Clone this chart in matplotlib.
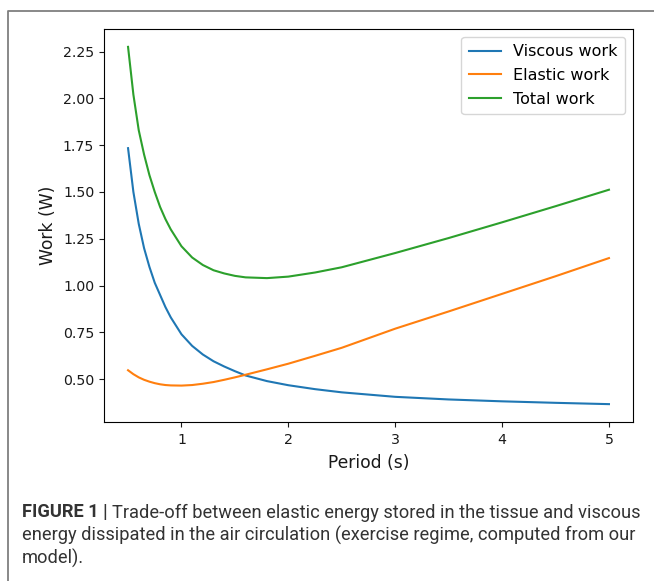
import matplotlib
matplotlib.use("Agg")
import matplotlib.pyplot as plt
from matplotlib.lines import Line2D

# ---- data ----
period = [0.5, 0.55, 0.6, 0.65, 0.7, 0.75, 0.8, 0.85, 0.9, 1.0, 1.1, 1.2, 1.3,
          1.4, 1.5, 1.6, 1.8, 2.0, 2.25, 2.5, 3.0, 3.5, 4.0, 4.5, 5.0]
viscous = [1.734, 1.50, 1.33, 1.20, 1.10, 1.015, 0.95, 0.885, 0.83, 0.74, 0.678,
           0.632, 0.596, 0.568, 0.543, 0.52, 0.49, 0.468, 0.447, 0.430, 0.406,
           0.392, 0.382, 0.374, 0.367]
elastic = [0.548, 0.527, 0.510, 0.497, 0.487, 0.479, 0.473, 0.469, 0.467, 0.466,
           0.469, 0.476, 0.485, 0.497, 0.510, 0.524, 0.553, 0.583, 0.625, 0.668,
           0.770, 0.862, 0.956, 1.050, 1.147]
total = [2.275, 2.02, 1.83, 1.70, 1.59, 1.50, 1.42, 1.355, 1.30, 1.21, 1.15,
         1.11, 1.082, 1.065, 1.052, 1.044, 1.040, 1.048, 1.070, 1.098, 1.174,
         1.254, 1.338, 1.424, 1.512]
series_labels = ["Viscous work", "Elastic work", "Total work"]
x_label = "Period (s)"
y_label = "Work (W)"
caption_bold = "FIGURE 1 | "
caption_lines = [
    "Trade-off between elastic energy stored in the tissue and viscous",
    "energy dissipated in the air circulation (exercise regime, computed from our",
    "model).",
]

W, H = 654, 581
fig = plt.figure(figsize=(W / 100, H / 100), dpi=100)
fig.patch.set_facecolor("white")

ax = fig.add_axes([104 / W, (H - 422) / H, 529 / W, 393 / H])
ax.plot(period, viscous, color="#1f77b4", lw=1.5, label=series_labels[0])
ax.plot(period, elastic, color="#ff7f0e", lw=1.5, label=series_labels[1])
ax.plot(period, total, color="#2ca02c", lw=1.5, label=series_labels[2])
ax.set_xticks([1, 2, 3, 4, 5])
ax.set_yticks([0.5, 0.75, 1.0, 1.25, 1.5, 1.75, 2.0, 2.25])
ax.tick_params(labelsize=10.2, colors="#1a1a1a")
ax.tick_params(axis="x", pad=4.5)
ax.set_xlabel(x_label, fontsize=12.3, color="#1a1a1a", labelpad=5)
ax.set_ylabel(y_label, fontsize=12.3, color="#1a1a1a")
ax.legend(loc="upper right", fontsize=11.5, borderpad=0.45, labelspacing=0.55)

# frame border of the figure panel
fig.add_artist(Line2D([8 / W, 8 / W, 1.0], [0.0, 1 - 10.7 / H, 1 - 10.7 / H],
                      transform=fig.transFigure, color="#7f7f7f", lw=1.3))

# caption
cap_font = "Roboto"
cap_color = "#333333"
fig.canvas.draw()
renderer = fig.canvas.get_renderer()

def place_caption(fs):
    texts = []
    x0 = 22 / W
    y_base = [517.5, 540.5, 563.5]
    tb = fig.text(x0, 1 - y_base[0] / H, caption_bold, fontsize=fs,
                  fontweight="bold", family=cap_font, color=cap_color,
                  va="baseline", ha="left")
    texts.append(tb)
    bb = tb.get_window_extent(renderer)
    t1 = fig.text(bb.x1 / W, 1 - y_base[0] / H, caption_lines[0], fontsize=fs,
                  family=cap_font, color=cap_color, va="baseline", ha="left")
    texts.append(t1)
    for i in (1, 2):
        texts.append(fig.text(x0, 1 - y_base[i] / H, caption_lines[i], fontsize=fs,
                              family=cap_font, color=cap_color, va="baseline",
                              ha="left"))
    return texts

texts = place_caption(10)
w_now = texts[1].get_window_extent(renderer).x1 - 22
for t in texts:
    t.remove()
fs = 10 * 617 / w_now
place_caption(fs)

fig.savefig("out.png", dpi=100, facecolor="white")
